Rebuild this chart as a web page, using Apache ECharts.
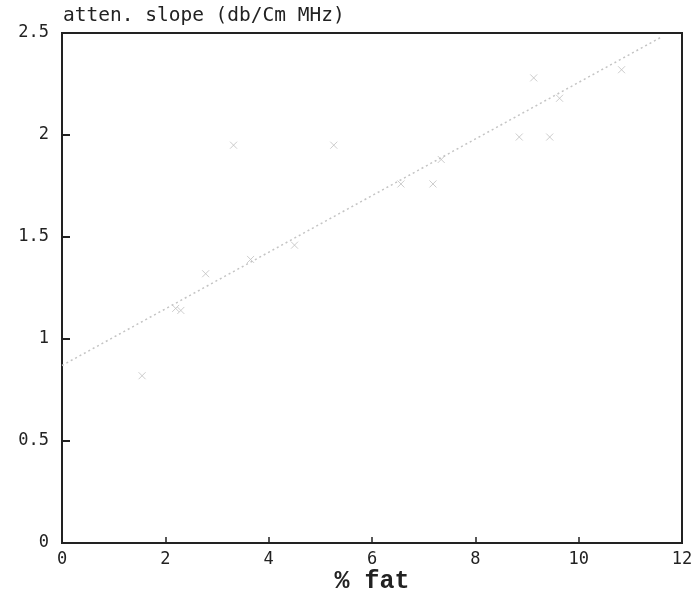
<!DOCTYPE html>
<html>
<head>
<meta charset="utf-8">
<script src="https://cdn.jsdelivr.net/npm/echarts@6/dist/echarts.min.js"></script>
<style>html,body{margin:0;padding:0;background:#fff;}#c{width:695px;height:597px;}</style>
</head>
<body>
<div id="c"></div>
<script>
const fatPct = [1.55, 2.2, 2.3, 2.78, 3.32, 3.65, 4.5, 5.26, 6.56, 7.18, 7.34, 8.85, 9.13, 9.44, 9.63, 10.83];
const attenSlope = [0.82, 1.15, 1.14, 1.32, 1.95, 1.39, 1.46, 1.95, 1.76, 1.76, 1.88, 1.99, 2.28, 1.99, 2.18, 2.32];
const fitX = [0, 11.6];
const fitY = [0.87, 2.48];
const xTicks = [0, 2, 4, 6, 8, 10, 12];
const yTicks = [0, 0.5, 1, 1.5, 2, 2.5];

const chart = echarts.init(document.getElementById('c'));
const mono = 'DejaVu Sans Mono';
chart.setOption({
  backgroundColor: '#fff',
  animation: false,
  title: {
    text: 'atten. slope (db/Cm MHz)',
    left: 58, top: 1,
    textStyle: {fontFamily: mono, fontSize: 19.5, fontWeight: 'normal', color: '#222'}
  },
  grid: {left: 62, right: 13, top: 33, bottom: 54, show: true, borderColor: '#222', borderWidth: 2,
    backgroundColor: 'transparent', containLabel: false, outerBoundsMode: 'none'},
  xAxis: {
    type: 'value', min: 0, max: 12, interval: 2,
    name: '% fat', nameLocation: 'middle', nameGap: 26, nameMoveOverlap: false,
    nameTextStyle: {fontFamily: 'Liberation Mono', fontSize: 25, fontWeight: 'bold', color: '#222'},
    axisLine: {lineStyle: {color: '#222', width: 2}},
    axisTick: {inside: true, length: 6, lineStyle: {color: '#222', width: 1.5}},
    axisLabel: {fontFamily: mono, fontSize: 17, color: '#222', margin: 8,
      formatter: v => xTicks.includes(v) ? String(v) : ''},
    splitLine: {show: false}
  },
  yAxis: {
    type: 'value', min: 0, max: 2.5, interval: 0.5,
    axisLine: {lineStyle: {color: '#222', width: 2}},
    axisTick: {inside: true, length: 8, lineStyle: {color: '#222', width: 2}},
    axisLabel: {fontFamily: mono, fontSize: 17, color: '#222', margin: 13,
      formatter: v => yTicks.includes(v) ? String(v) : ''},
    splitLine: {show: false}
  },
  series: [
    {
      type: 'line',
      data: fitX.map((x, i) => [x, fitY[i]]),
      symbol: 'none',
      lineStyle: {color: '#c4c4c4', width: 1.5, type: [2, 3]},
      z: 1
    },
    {
      type: 'scatter',
      data: fatPct.map((x, i) => [x, attenSlope[i]]),
      symbol: 'path://M0,0L10,10M10,0L0,10',
      symbolSize: 7,
      itemStyle: {color: 'none', borderColor: '#c0c0c0', borderWidth: 1},
      z: 2
    }
  ]
});
</script>
</body>
</html>
